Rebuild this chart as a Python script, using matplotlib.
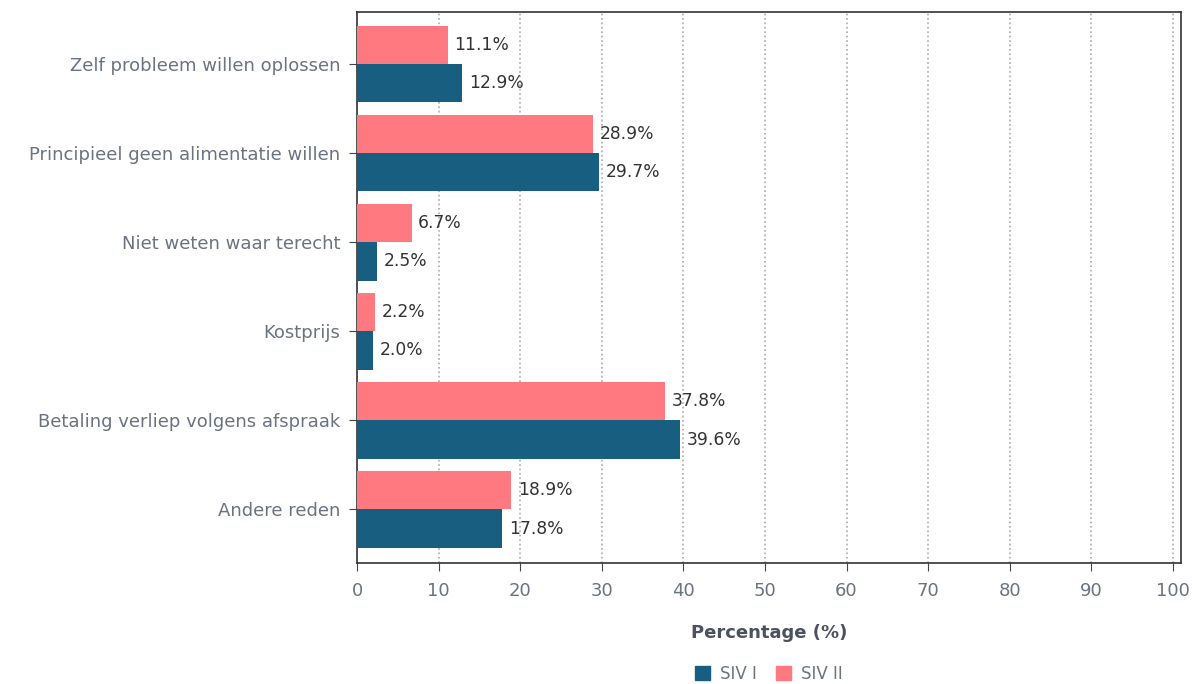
import numpy as np
import matplotlib
import matplotlib.pyplot as plt
from matplotlib.patches import Patch

matplotlib.use('agg')

categories = [
    'Zelf probleem willen oplossen',
    'Principieel geen alimentatie willen',
    'Niet weten waar terecht',
    'Kostprijs',
    'Betaling verliep volgens afspraak',
    'Andere reden',
]
siv1 = [12.9, 29.7, 2.5, 2.0, 39.6, 17.8]
siv2 = [11.1, 28.9, 6.7, 2.2, 37.8, 18.9]
series_names = ['SIV I', 'SIV II']

BLUE = '#175e80'
PINK = '#ff7a80'
GREY = '#6b7280'
DARK = '#333333'

plt.rcParams['font.family'] = ['DejaVu Sans']

fig = plt.figure(figsize=(11.92, 6.84), dpi=100)
ax = fig.add_axes([0.2995, 0.177, 0.6913, 0.8055])

y = np.arange(len(categories))
h = 0.43
ax.barh(y + h / 2, siv1, height=h, color=BLUE, zorder=3)
ax.barh(y - h / 2, siv2, height=h, color=PINK, zorder=3)

# waarde-labels naast de balken
for yi, v in zip(y, siv1):
    ax.text(v + 0.8, yi + h / 2, f'{v:.1f}%', va='center', ha='left', fontsize=12.3, color=DARK)
for yi, v in zip(y, siv2):
    ax.text(v + 0.8, yi - h / 2, f'{v:.1f}%', va='center', ha='left', fontsize=12.3, color=DARK)

ax.set_yticks(y)
ax.set_yticklabels(categories)
ax.set_ylim(len(categories) - 1 + 0.6, -0.585)
ax.set_xlim(0, 101)
ax.set_xticks(np.arange(0, 101, 10))
ax.tick_params(axis='both', colors=GREY, labelsize=13, length=6)
ax.tick_params(axis='x', pad=8, color='#444444')
ax.tick_params(axis='y', pad=6, color='#444444')
ax.grid(axis='x', linestyle=':', color='#aaaaaa', linewidth=1.2, zorder=0)
for s in ax.spines.values():
    s.set_color('#333333')
    s.set_linewidth(1.2)

ax.set_xlabel('Percentage (%)', fontsize=13, fontweight='bold', color='#4b5160', labelpad=17)

handles = [Patch(color=BLUE), Patch(color=PINK)]
fig.legend(handles, series_names, loc='lower center', bbox_to_anchor=(0.645, -0.02),
           ncol=2, frameon=False, fontsize=12, labelcolor=GREY,
           handlelength=0.9, handleheight=0.9, handletextpad=0.6, columnspacing=1.2)

fig.savefig('out.png', dpi=100)
